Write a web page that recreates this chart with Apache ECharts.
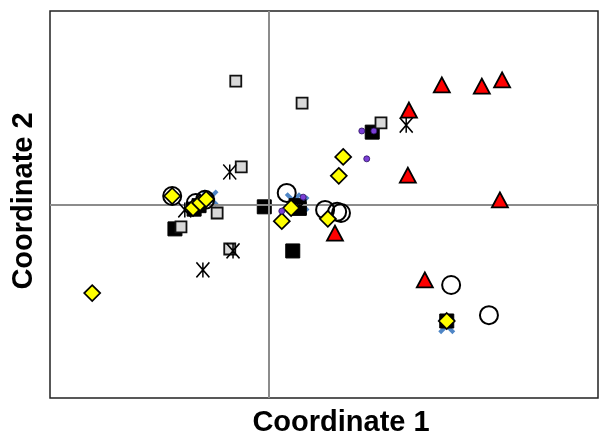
<!DOCTYPE html>
<html>
<head>
<meta charset="utf-8">
<script src="https://cdn.jsdelivr.net/npm/echarts@6/dist/echarts.min.js"></script>
<style>html,body{margin:0;padding:0;background:#fff}#c{width:600px;height:438px}</style>
</head>
<body>
<div id="c"></div>
<script>
// Values (Coordinate 1, Coordinate 2)
var blueCross = [[0.044,0.010],[0.058,0.002],[-0.108,0.017],[0.324,-0.313]];
var blackSquares = [[0.188,0.187],[-0.009,-0.006],[-0.172,-0.063],[0.043,-0.120],[0.324,-0.301],[-0.128,-0.003],[-0.137,-0.012],[0.049,-0.003],[0.055,-0.010]];
var graySquares = [[-0.061,0.319],[0.060,0.262],[0.204,0.211],[-0.051,0.097],[-0.095,-0.022],[-0.161,-0.058],[-0.072,-0.115]];
var openCircles = [[-0.177,0.022],[0.032,0.030],[0.102,-0.014],[0.124,-0.019],[0.131,-0.022],[0.332,-0.208],[0.401,-0.286],[-0.134,0.004],[-0.117,0.012]];
var asterisks = [[-0.072,0.084],[0.250,0.205],[-0.066,-0.120],[-0.121,-0.169],[0.056,-0.006],[-0.154,-0.014]];
var yellowDiamonds = [[-0.323,-0.229],[-0.177,0.022],[-0.139,-0.009],[-0.126,0.004],[-0.115,0.014],[0.023,-0.043],[0.040,-0.009],[0.107,-0.037],[0.127,0.074],[0.135,0.123],[0.324,-0.301]];
var purpleDots = [[0.169,0.190],[0.191,0.190],[0.178,0.118],[0.062,0.019],[0.023,-0.017]];
var redTriangles = [[0.315,0.309],[0.388,0.306],[0.425,0.322],[0.255,0.244],[0.253,0.076],[0.421,0.012],[0.120,-0.074],[0.284,-0.195]];
var axisTitles = ['Coordinate 1','Coordinate 2'];

var chart = echarts.init(document.getElementById('c'), null, {renderer:'canvas'});
var z = 2;
function s(data, symbol, size, style, extra){
  style.opacity = 1;
  var o = {type:'scatter', data:data, symbol:symbol, symbolSize:size, itemStyle:style, z:z++, silent:true, emphasis:{disabled:true}};
  if (extra) for (var k in extra) o[k]=extra[k];
  return o;
}
var option = {
  animation:false,
  backgroundColor:'#fff',
  grid:{left:50,right:2,top:11,bottom:40,show:true,borderColor:'#222',borderWidth:1.5,backgroundColor:'transparent'},
  xAxis:{type:'value',min:-0.4,max:0.6,axisLine:{show:false},axisTick:{show:false},axisLabel:{show:false},splitLine:{show:false}},
  yAxis:{type:'value',min:-0.5,max:0.5,axisLine:{show:false},axisTick:{show:false},axisLabel:{show:false},splitLine:{show:false}},
  graphic:[
    {type:'text',x:341,y:423,style:{text:axisTitles[0],fontFamily:'Liberation Sans, Arial, sans-serif',fontWeight:'bold',fontSize:29,fill:'#000',textAlign:'center',textVerticalAlign:'middle'}},
    {type:'text',x:24,y:201,rotation:Math.PI/2,style:{text:axisTitles[1],fontFamily:'Liberation Sans, Arial, sans-serif',fontWeight:'bold',fontSize:29,fill:'#000',textAlign:'center',textVerticalAlign:'middle'}}
  ],
  series:[
    s([], 'none', 1, {}, {markLine:{silent:true,symbol:'none',label:{show:false},lineStyle:{color:'#8c8c8c',width:2,type:'solid'},data:[{xAxis:0},{yAxis:0}]}}),
    s(blueCross, 'path://M0,2L2,0L6,4L10,0L12,2L8,6L12,10L10,12L6,8L2,12L0,10L4,6Z', 17, {color:'#4f86c6'}),
    s(blackSquares, 'rect', 14, {color:'#000',borderColor:'#000',borderWidth:1}),
    s(graySquares, 'rect', 11, {color:'#d9d9d9',borderColor:'#111',borderWidth:1.8}),
    s(openCircles, 'circle', 18, {color:'rgba(255,255,255,0)',borderColor:'#000',borderWidth:2}),
    s(asterisks, 'path://M0,0L12,14M12,0L0,14M6,0L6,14', [13,15], {color:'none',borderColor:'#000',borderWidth:1.6}),
    s(yellowDiamonds, 'diamond', 16, {color:'#ffff00',borderColor:'#000',borderWidth:1.7}),
    s(purpleDots, 'circle', 6, {color:'#7b3fd6',borderColor:'#2a1060',borderWidth:0.8}),
    s(redTriangles, 'triangle', [16,15], {color:'#ff0000',borderColor:'#000',borderWidth:1.8})
  ]
};
chart.setOption(option);
</script>
</body>
</html>
